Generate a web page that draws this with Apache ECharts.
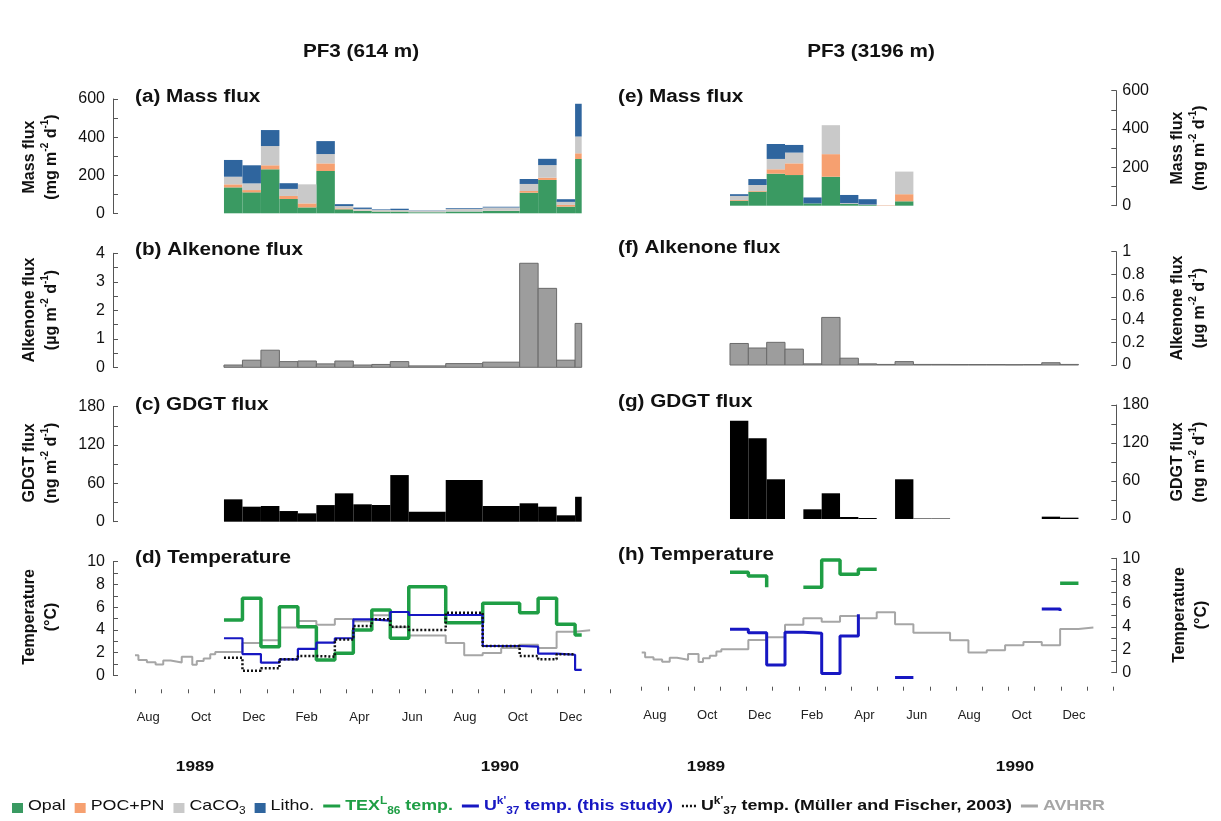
<!DOCTYPE html>
<html>
<head>
<meta charset="utf-8">
<script src="https://cdn.jsdelivr.net/npm/echarts@6/dist/echarts.min.js"></script>
<style>
html, body { margin: 0; padding: 0; background: #fff; }
#chart { width: 1221px; height: 821px; }
</style>
</head>
<body>
<div id="chart"></div>
<script>
// Time axis: months counted from 1 Aug 1989 (0) to 1 Feb 1991 (18)
const monthLabels = ['Aug','Sep','Oct','Nov','Dec','Jan','Feb','Mar','Apr','May','Jun','Jul','Aug','Sep','Oct','Nov','Dec','Jan'];

// Trap sample start times (months); the last entry closes the final sample
const samples614 = [3.37, 4.07, 4.77, 5.47, 6.17, 6.87, 7.57, 8.27, 8.97, 9.67, 10.37, 11.77, 13.17, 14.57, 15.27, 15.97, 16.67, 16.92];
const samples3196 = [3.37, 4.07, 4.77, 5.47, 6.17, 6.87, 7.57, 8.27, 8.97, 9.67, 10.37, 11.07, 11.77, 12.47, 13.17, 13.87, 14.57, 15.27, 15.97, 16.67];

// PF3 614 m — mass flux components (mg m-2 d-1)
const opal614   = [136, 110, 231, 75, 31, 222, 21, 12, 9, 9, 5, 9, 12, 108, 175, 35, 285];
const poc614    = [16, 12, 21, 16, 21, 40, 5, 2, 1, 1, 1, 1, 1, 9, 12, 9, 30];
const caco3614  = [40, 35, 101, 37, 100, 49, 12, 9, 8, 7, 9, 12, 17, 37, 66, 16, 88];
const litho614  = [88, 95, 84, 30, 0, 68, 10, 7, 3, 7, 1, 5, 4, 26, 33, 14, 172];
// Alkenone flux (µg m-2 d-1) and GDGT flux (ng m-2 d-1)
const alk614  = [0.08, 0.25, 0.6, 0.2, 0.22, 0.12, 0.22, 0.08, 0.1, 0.2, 0.05, 0.13, 0.18, 3.65, 2.77, 0.25, 1.54];
const gdgt614 = [35, 23.5, 24.6, 16.7, 13.1, 26, 44.4, 27.2, 26.1, 73, 15.7, 65.3, 24.6, 28.8, 23.5, 10, 39];
// Temperatures (°C) at each sample time
const tex614    = [4.87, 6.78, 2.52, 6.04, 4.28, 1.35, 1.94, 3.99, 5.75, 3.26, 7.80, 4.63, 6.34, 5.51, 6.78, 4.49, 3.55, 3.55];
const uk614     = [3.26, 1.87, 1.11, 1.41, 2.32, 2.87, 3.26, 4.93, 4.81, 5.57, 5.31, 5.31, 2.58, 2.52, 1.91, 1.81, 0.47, 0.47];
const ukMF614   = [1.55, 0.41, 0.61, 1.41, 1.70, 1.64, 3.15, 4.34, 4.93, 4.28, 3.99, 5.51, 2.58, 1.70, 1.41, 1.85, 1.85, null];

// PF3 3196 m — mass flux components (mg m-2 d-1)
const opal3196  = [26, 73, 167, 160, 12, 151, 9, 4, 0, 23];
const poc3196   = [4, 4, 23, 61, 0, 118, 1, 1, 2, 37];
const caco33196 = [21, 31, 54, 56, 0, 151, 3, 1, 1, 118];
const litho3196 = [9, 31, 78, 40, 31, 0, 43, 28, 0, 0];
const alk3196  = [0.19, 0.15, 0.2, 0.14, 0.01, 0.42, 0.06, 0.01, 0.005, 0.03, 0.005, 0.005, 0.004, 0.004, 0.004, 0.003, 0.004, 0.02, 0.005];
const gdgt3196 = [155, 127.5, 62.7, 0, 15.3, 40.6, 3.2, 1.6, 0, 62.7, 0.8, 0.8, null, null, null, null, null, 3.7, 2.1];
const tex3196  = [8.77, 8.45, 7.46, null, 7.46, 9.85, 8.6, 9.04, 9.04, null, null, null, null, null, null, null, null, null, 7.81, 7.81];
const uk3196   = [3.79, 3.5, 0.67, 3.53, 3.44, -0.06, 3.2, 5.1, null, -0.41, -0.41, null, null, null, null, null, null, 5.57, 5.4, null];

// AVHRR sea surface temperature (°C), step start times (months)
const avhrrTime = [0, 0.13, 0.45, 0.78, 1.07, 1.35, 1.77, 2.17, 2.34, 2.6, 2.85, 3.04, 4.07, 4.77, 5.47, 6.17, 6.87, 7.57, 8.27, 8.97, 9.67, 10.37, 11.77, 12.47, 13.17, 13.87, 14.57, 15.27, 15.97, 16.67, 17.24];
const avhrrTemp = [1.76, 1.35, 1.15, 0.95, 1.3, 1.13, 1.64, 0.93, 1.26, 1.48, 1.86, 2.05, 2.85, 3.09, 4.2, 4.77, 4.46, 4.96, 4.75, 5.28, 4.23, 3.5, 2.84, 1.77, 1.96, 2.4, 2.69, 2.4, 3.83, 3.96, 3.96];

const FONT = '"Liberation Sans", Arial, Helvetica, sans-serif';
const C = {
  opal: '#3a9a62', poc: '#f6a070', caco3: '#c9c9c9', litho: '#2f659e',
  alk: '#9d9d9d', alkEdge: '#6a6a6a', gdgt: '#000000',
  tex: '#1f9e45', uk: '#1717c2', mf: '#111111', avhrr: '#a6a6a6', axis: '#555555'
};

// Bars spanning sample intervals: [start, end, base, top]
function barRows(times, values, bases) {
  const rows = [];
  values.forEach((v, k) => {
    if (v == null || v === 0 || times[k + 1] == null) return;
    const b = bases ? bases[k] : 0;
    rows.push([times[k], times[k + 1], b, b + v]);
  });
  return rows;
}
function stackRows(times, layers) {
  const base = layers[0].map(() => 0);
  return layers.map(layer => {
    const rows = barRows(times, layer, base.slice());
    layer.forEach((v, k) => { base[k] += (v || 0); });
    return rows;
  });
}
// Step polyline: each value holds until the next sample time
function stepPoints(times, values) {
  const pts = [];
  let open = false;
  for (let k = 0; k < values.length; k++) {
    const v = values[k];
    if (v == null) {
      if (open) { pts.push([times[k], '-']); open = false; }
      continue;
    }
    pts.push([times[k], v]);
    open = true;
    if (k + 1 < values.length && values[k + 1] != null) pts.push([times[k + 1], v]);
  }
  return pts;
}

function renderBar(params, api) {
  const p0 = api.coord([api.value(0), api.value(3)]);
  const p1 = api.coord([api.value(1), api.value(2)]);
  return {
    type: 'rect',
    shape: { x: p0[0], y: p0[1], width: p1[0] - p0[0], height: p1[1] - p0[1] },
    style: api.style()
  };
}
function barSeries(idx, rows, color, edge) {
  return {
    type: 'custom', xAxisIndex: idx, yAxisIndex: idx, renderItem: renderBar,
    dimensions: ['x0', 'x1', 'y0', 'y1'], encode: { x: [0, 1], y: [2, 3] },
    itemStyle: edge ? { color, borderColor: edge, borderWidth: 1 } : { color },
    data: rows, silent: true, clip: false
  };
}
function lineSeries(idx, pts, color, width, dashed, z) {
  return {
    type: 'line', xAxisIndex: idx, yAxisIndex: idx, data: pts,
    showSymbol: false, symbol: 'none', connectNulls: false, clip: false, silent: true, z: z,
    lineStyle: { color, width, type: dashed ? [2, 2] : 'solid', cap: 'butt' }
  };
}

const LEFT = { left: 135, width: 475.2 };
const RIGHT = { left: 641.7, width: 471.6 };
const grids = [
  Object.assign({ top: 99, height: 114.3 }, LEFT),
  Object.assign({ top: 253.3, height: 114 }, LEFT),
  Object.assign({ top: 406.7, height: 115 }, LEFT),
  Object.assign({ top: 561.7, height: 113.6 }, LEFT),
  Object.assign({ top: 90.7, height: 115 }, RIGHT),
  Object.assign({ top: 251.7, height: 113.3 }, RIGHT),
  Object.assign({ top: 405, height: 114 }, RIGHT),
  Object.assign({ top: 558.3, height: 114.4 }, RIGHT)
];

const xAxes = grids.map((g, i) => ({ type: 'value', gridIndex: i, min: 0, max: 18, show: false }));
[3, 7].forEach(i => xAxes.push({
  type: 'category', gridIndex: i, data: monthLabels, boundaryGap: true, position: 'bottom', offset: 14,
  axisLine: { show: false, onZero: false },
  axisTick: { show: true, interval: 0, alignWithLabel: false, length: 4, lineStyle: { color: C.axis } },
  axisLabel: { interval: 1, margin: 22, fontSize: 13, color: '#222', fontFamily: FONT },
  splitLine: { show: false }
}));

function yAx(i, max, interval, minor, side) {
  return {
    type: 'value', gridIndex: i, min: 0, max, interval, position: side,
    offset: side === 'left' ? 22 : 3,
    axisLine: { show: true, onZero: false, lineStyle: { color: C.axis, width: 1 } },
    axisTick: { show: true, inside: true, length: 5, lineStyle: { color: C.axis } },
    minorTick: { show: minor, splitNumber: 2, length: 5, lineStyle: { color: C.axis } },
    splitLine: { show: false },
    axisLabel: { color: '#111', fontSize: 16, fontFamily: FONT, margin: side === 'left' ? 8 : 6 }
  };
}
const yAxes = [
  yAx(0, 600, 200, true, 'left'),
  yAx(1, 4, 1, true, 'left'),
  yAx(2, 180, 60, true, 'left'),
  yAx(3, 10, 2, true, 'left'),
  yAx(4, 600, 200, true, 'right'),
  yAx(5, 1, 0.2, false, 'right'),
  yAx(6, 180, 60, true, 'right'),
  yAx(7, 10, 2, true, 'right')
];

const series = [];
const m614 = stackRows(samples614, [opal614, poc614, caco3614, litho614]);
const m3196 = stackRows(samples3196, [opal3196, poc3196, caco33196, litho3196]);
[C.opal, C.poc, C.caco3, C.litho].forEach((c, j) => {
  series.push(barSeries(0, m614[j], c));
  series.push(barSeries(4, m3196[j], c));
});
series.push(barSeries(1, barRows(samples614, alk614), C.alk, C.alkEdge));
series.push(barSeries(5, barRows(samples3196, alk3196), C.alk, C.alkEdge));
series.push(barSeries(2, barRows(samples614, gdgt614), C.gdgt));
series.push(barSeries(6, barRows(samples3196, gdgt3196), C.gdgt));

series.push(lineSeries(3, stepPoints(avhrrTime, avhrrTemp), C.avhrr, 2, false, 2));
series.push(lineSeries(3, stepPoints(samples614, tex614), C.tex, 3.5, false, 3));
series.push(lineSeries(3, stepPoints(samples614, uk614), C.uk, 2.2, false, 4));
series.push(lineSeries(3, stepPoints(samples614, ukMF614), C.mf, 2.5, true, 5));
series.push(lineSeries(7, stepPoints(avhrrTime, avhrrTemp), C.avhrr, 2, false, 2));
series.push(lineSeries(7, stepPoints(samples3196, tex3196), C.tex, 3.5, false, 3));
series.push(lineSeries(7, stepPoints(samples3196, uk3196), C.uk, 3, false, 4));

// ---- text decorations ----
const SX = 1.15;
function txt(x, y, text, opts) {
  opts = opts || {};
  return {
    type: 'text', x, y, scaleX: opts.scaleX || 1, scaleY: opts.scaleY || 1, rotation: opts.rotation || 0, silent: true,
    style: {
      text, fontFamily: FONT, fontSize: opts.size || 16, fontWeight: opts.weight || 'normal',
      fill: opts.color || '#111',
      textAlign: opts.align || 'left', align: opts.align || 'left',
      textVerticalAlign: 'middle', verticalAlign: 'middle',
      lineHeight: opts.lineHeight, rich: opts.rich
    }
  };
}
const axRich = {
  t: { fontSize: 16, fontWeight: 'bold', fontFamily: FONT, fill: '#111', lineHeight: 20, verticalAlign: 'middle' },
  s: { fontSize: 10, fontWeight: 'bold', fontFamily: FONT, fill: '#111', lineHeight: 20, verticalAlign: 'top' }
};
function unitText(name, unit) {
  return name + '\n{t|(' + unit + ' m}{s|-2}{t| d}{s|-1}{t|)}';
}
function axisTitle(x, y, text) {
  return txt(x, y, text, { size: 16, weight: 'bold', align: 'center', rotation: Math.PI / 2, lineHeight: 20, rich: axRich, scaleY: 1.08 });
}

const graphics = [
  txt(361, 52, 'PF3 (614 m)', { size: 18, weight: 'bold', align: 'center', scaleX: SX }),
  txt(871, 52, 'PF3 (3196 m)', { size: 18, weight: 'bold', align: 'center', scaleX: SX }),
  txt(135, 97, '(a) Mass flux', { size: 18, weight: 'bold', scaleX: SX }),
  txt(135, 250, '(b) Alkenone flux', { size: 18, weight: 'bold', scaleX: SX }),
  txt(135, 405, '(c) GDGT flux', { size: 18, weight: 'bold', scaleX: SX }),
  txt(135, 558, '(d) Temperature', { size: 18, weight: 'bold', scaleX: SX }),
  txt(618, 97, '(e) Mass flux', { size: 18, weight: 'bold', scaleX: SX }),
  txt(618, 248, '(f) Alkenone flux', { size: 18, weight: 'bold', scaleX: SX }),
  txt(618, 402, '(g) GDGT flux', { size: 18, weight: 'bold', scaleX: SX }),
  txt(618, 555, '(h) Temperature', { size: 18, weight: 'bold', scaleX: SX }),
  axisTitle(40, 157, unitText('Mass flux', 'mg')),
  axisTitle(40, 310, unitText('Alkenone flux', 'µg')),
  axisTitle(40, 463, unitText('GDGT flux', 'ng')),
  axisTitle(40, 617, 'Temperature\n{t|(°C)}'),
  axisTitle(1188, 148, unitText('Mass flux', 'mg')),
  axisTitle(1188, 308, unitText('Alkenone flux', 'µg')),
  axisTitle(1188, 462, unitText('GDGT flux', 'ng')),
  axisTitle(1190, 615, 'Temperature\n{t|(°C)}'),
  txt(195, 767, '1989', { size: 15, weight: 'bold', align: 'center', scaleX: SX }),
  txt(500, 767, '1990', { size: 15, weight: 'bold', align: 'center', scaleX: SX }),
  txt(706, 767, '1989', { size: 15, weight: 'bold', align: 'center', scaleX: SX }),
  txt(1015, 767, '1990', { size: 15, weight: 'bold', align: 'center', scaleX: SX })
];

// ---- legend row, laid out left to right from measured text widths ----
const LY = 806;
const legendItems = [
  { icon: 'box', color: C.opal, text: '#111', weight: 'normal', parts: [['Opal', '']] },
  { icon: 'box', color: C.poc, text: '#111', weight: 'normal', parts: [['POC+PN', '']] },
  { icon: 'box', color: C.caco3, text: '#111', weight: 'normal', parts: [['CaCO', ''], ['3', 'dn']] },
  { icon: 'box', color: C.litho, text: '#111', weight: 'normal', parts: [['Litho.', '']] },
  { icon: 'line', color: C.tex, text: C.tex, weight: 'bold', parts: [['TEX', ''], ['L', 'up'], ['86', 'dn'], [' temp.', '']] },
  { icon: 'line', color: C.uk, text: C.uk, weight: 'bold', parts: [['U', ''], ["k'", 'up'], ['37', 'dn'], [' temp. (this study)', '']] },
  { icon: 'dots', color: C.mf, text: '#111', weight: 'bold', parts: [['U', ''], ["k'", 'up'], ['37', 'dn'], [' temp. (Müller and Fischer, 2003)', '']] },
  { icon: 'line', color: C.avhrr, text: C.avhrr, weight: 'bold', parts: [['AVHRR', '']] }
];
const measureCtx = document.createElement('canvas').getContext('2d');
function partsWidth(item) {
  return item.parts.reduce((w, p) => {
    measureCtx.font = item.weight + ' ' + (p[1] ? 10 : 15) + 'px ' + FONT;
    return w + measureCtx.measureText(p[0]).width;
  }, 0);
}
const ICON_W = { box: 11, line: 17, dots: 14 };
const GAP_ICON = 5, GAP_ITEM = 9, LEG_START = 12, LEG_END = 1105;
const fixedW = legendItems.reduce((w, it) => w + ICON_W[it.icon] + GAP_ICON, 0) + GAP_ITEM * (legendItems.length - 1);
const textW = legendItems.reduce((w, it) => w + partsWidth(it), 0);
const legScale = (LEG_END - LEG_START - fixedW) / textW;
let lx = LEG_START;
legendItems.forEach(it => {
  const iw = ICON_W[it.icon];
  if (it.icon === 'box') {
    graphics.push({ type: 'rect', silent: true, shape: { x: lx, y: LY - 3, width: iw, height: 10 }, style: { fill: it.color } });
  } else {
    graphics.push({ type: 'line', silent: true, shape: { x1: lx, y1: LY, x2: lx + iw, y2: LY },
      style: { stroke: it.color, lineWidth: it.icon === 'dots' ? 2.5 : 3, lineDash: it.icon === 'dots' ? [2, 2] : null } });
  }
  lx += iw + GAP_ICON;
  const rich = {
    b: { fontSize: 15, fontWeight: it.weight, fontFamily: FONT, fill: it.text, lineHeight: 20, verticalAlign: 'middle' },
    up: { fontSize: 10, fontWeight: it.weight, fontFamily: FONT, fill: it.text, lineHeight: 20, verticalAlign: 'top' },
    dn: { fontSize: 10, fontWeight: it.weight, fontFamily: FONT, fill: it.text, lineHeight: 20, verticalAlign: 'bottom' }
  };
  const str = it.parts.map(p => '{' + (p[1] || 'b') + '|' + p[0] + '}').join('');
  graphics.push(txt(lx, LY, str, { size: 15, weight: it.weight, color: it.text, scaleX: legScale, lineHeight: 20, rich }));
  lx += partsWidth(it) * legScale + GAP_ITEM;
});

const chart = echarts.init(document.getElementById('chart'), null, { renderer: 'canvas' });
chart.setOption({
  animation: false,
  backgroundColor: '#ffffff',
  grid: grids,
  xAxis: xAxes,
  yAxis: yAxes,
  series: series,
  graphic: { elements: graphics }
});
</script>
</body>
</html>
